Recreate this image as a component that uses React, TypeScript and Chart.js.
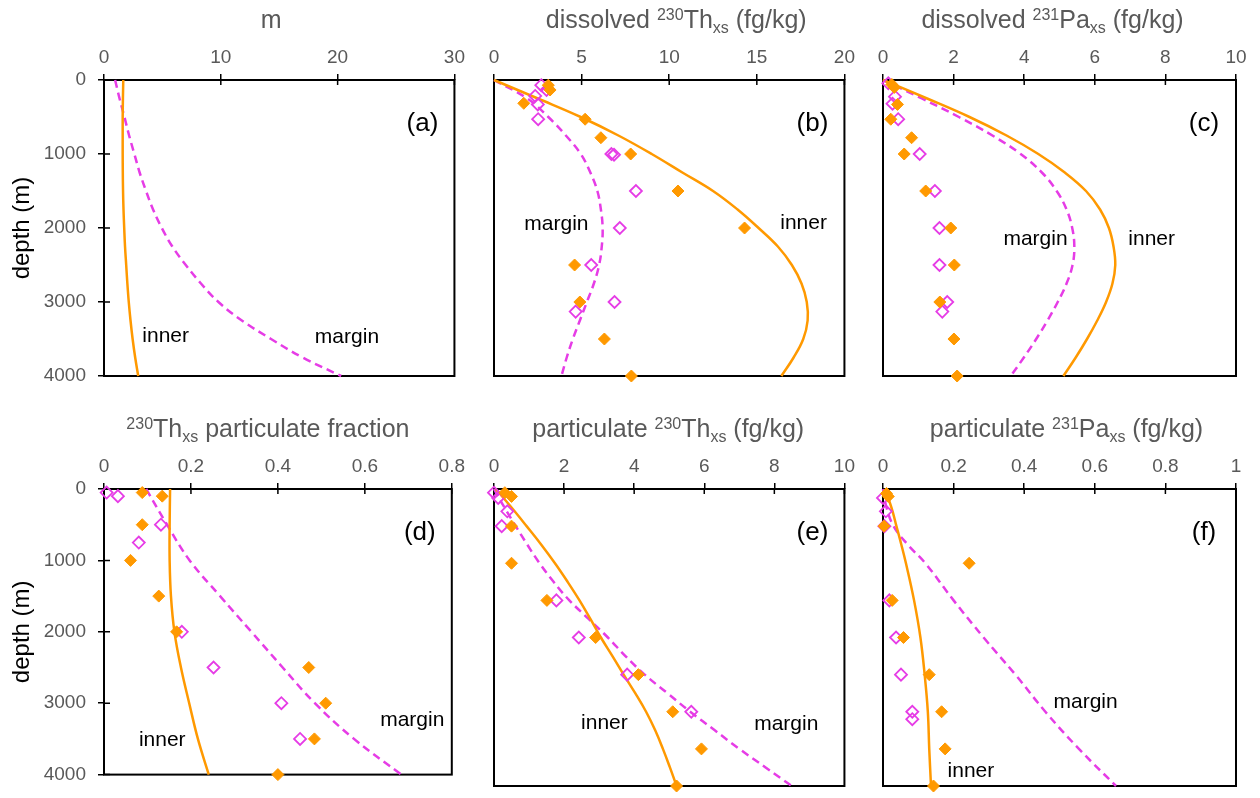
import React, { useEffect, useRef } from 'react';
import { Chart, registerables } from 'chart.js';

Chart.register(...registerables);

const FONT = "'Liberation Sans', Arial, Helvetica, sans-serif";
const ORANGE = '#FF9900';
const MAGENTA = '#E63CE6';
const GRAY = '#595959';

// ---------- data ----------
const DEPTH_250 = [0, 250, 500, 750, 1000, 1250, 1500, 1750, 2000, 2250, 2500, 2750, 3000, 3250, 3500, 3750, 4000];
const DEPTH_500 = [0, 500, 1000, 1500, 2000, 2500, 3000, 3500, 4000];
const DEPTH_F = [0, 250, 500, 750, 1000, 1500, 2000, 2500, 3000, 3500, 4000];

// (a) m
const A_INNER = [1.65, 1.62, 1.6, 1.6, 1.6, 1.61, 1.63, 1.67, 1.73, 1.8, 1.9, 2.0, 2.12, 2.27, 2.45, 2.67, 2.93];
const A_MARGIN = [0.95, 1.33, 1.75, 2.15, 2.6, 3.05, 3.6, 4.2, 4.95, 5.85, 7.0, 8.3, 9.8, 11.8, 14.3, 17.0, 20.3];

// (b) dissolved 230Th
const B_INNER = [0, 2.5, 4.95, 7.1, 9.0, 10.75, 12.5, 13.9, 15.1, 16.2, 17.0, 17.55, 17.85, 17.9, 17.65, 17.1, 16.4];
const B_MARGIN = [0, 1.9, 3.1, 4.1, 4.95, 5.5, 5.9, 6.1, 6.2, 6.15, 6.0, 5.7, 5.3, 4.9, 4.5, 4.15, 3.85];
const B_OBS_INNER_DEPTH = [70, 135, 315, 530, 780, 1000, 1500, 2000, 2500, 3000, 3500, 4000];
const B_OBS_INNER = [3.1, 3.2, 1.7, 5.2, 6.1, 7.8, 10.5, 14.3, 4.6, 4.9, 6.3, 7.84];
const B_OBS_MARGIN_DEPTH = [70, 135, 215, 330, 530, 1000, 1010, 1500, 2000, 2500, 3000, 3130];
const B_OBS_MARGIN = [2.7, 3.0, 2.35, 2.5, 2.52, 6.7, 6.85, 8.1, 7.18, 5.55, 6.88, 4.66];

// (c) dissolved 231Pa
const C_INNER = [0, 1.25, 2.45, 3.5, 4.4, 5.15, 5.75, 6.15, 6.4, 6.53, 6.58, 6.5, 6.32, 6.07, 5.78, 5.46, 5.11];
const C_MARGIN = [0, 1.1, 2.15, 3.1, 3.9, 4.5, 4.92, 5.2, 5.36, 5.42, 5.37, 5.2, 4.95, 4.66, 4.34, 3.99, 3.62];
const C_OBS_INNER_DEPTH = [60, 100, 330, 530, 780, 1000, 1500, 2000, 2500, 3000, 3500, 4000];
const C_OBS_INNER = [0.25, 0.32, 0.41, 0.22, 0.81, 0.6, 1.21, 1.92, 2.02, 1.61, 2.01, 2.1];
const C_OBS_MARGIN_DEPTH = [45, 225, 320, 530, 1000, 1500, 2000, 2500, 3000, 3130];
const C_OBS_MARGIN = [0.15, 0.34, 0.27, 0.43, 1.04, 1.47, 1.6, 1.6, 1.82, 1.68];

// (d) 230Th particulate fraction
const D_INNER = [0.152, 0.151, 0.151, 0.154, 0.162, 0.177, 0.196, 0.216, 0.241];
const D_MARGIN = [0.097, 0.145, 0.197, 0.267, 0.339, 0.411, 0.485, 0.575, 0.684];
const D_OBS_INNER_DEPTH = [50, 100, 500, 1000, 1500, 2000, 2500, 3000, 3500, 4000];
const D_OBS_INNER = [0.088, 0.134, 0.088, 0.061, 0.126, 0.167, 0.471, 0.51, 0.484, 0.4];
const D_OBS_MARGIN_DEPTH = [50, 100, 500, 750, 2000, 2500, 3000, 3500];
const D_OBS_MARGIN = [0.006, 0.032, 0.131, 0.08, 0.179, 0.252, 0.408, 0.451];

// (e) particulate 230Th
const E_INNER = [0.05, 0.5, 0.93, 1.35, 1.74, 2.1, 2.44, 2.75, 3.05, 3.38, 3.7, 4.03, 4.34, 4.6, 4.82, 5.02, 5.21];
const E_MARGIN = [0, 0.3, 0.62, 0.95, 1.3, 1.7, 2.15, 2.7, 3.25, 3.75, 4.3, 4.95, 5.6, 6.3, 7.0, 7.75, 8.5];
const E_OBS_INNER_DEPTH = [50, 100, 500, 1000, 1500, 2000, 2500, 3000, 3500, 4000];
const E_OBS_INNER = [0.31, 0.5, 0.5, 0.5, 1.51, 2.9, 4.12, 5.1, 5.92, 5.21];
const E_OBS_MARGIN_DEPTH = [50, 120, 300, 500, 1500, 2000, 2500, 3000];
const E_OBS_MARGIN = [0.0, 0.12, 0.38, 0.22, 1.78, 2.42, 3.8, 5.63];

// (f) particulate 231Pa
const F_INNER = [0.005, 0.024, 0.038, 0.052, 0.065, 0.088, 0.106, 0.118, 0.127, 0.131, 0.136];
const F_MARGIN = [0, 0.01, 0.03, 0.07, 0.12, 0.2, 0.285, 0.375, 0.46, 0.555, 0.66];
const F_OBS_INNER_DEPTH = [60, 100, 500, 1000, 1500, 2000, 2500, 3000, 3500, 4000];
const F_OBS_INNER = [0.01, 0.015, 0.003, 0.244, 0.026, 0.058, 0.131, 0.166, 0.176, 0.143];
const F_OBS_MARGIN_DEPTH = [120, 300, 500, 1500, 2000, 2500, 3000, 3100];
const F_OBS_MARGIN = [0.0, 0.008, 0.004, 0.018, 0.037, 0.051, 0.083, 0.083];

const DEPTH_TICK_STEP = 1000;

// ---------- panel configuration ----------
type Seg = { t: string; k?: 'sup' | 'sub' };
type Label = { text: string; x: number; y: number };

interface PanelCfg {
  left: number; top: number; w: number; h: number;
  padL: number; padR: number; padB: number;
  xAxisH: number; yAxisW: number; showY: boolean;
  xMax: number; xStep: number;
  title: Seg[]; titleDx: number;
  letter: string;
  labels: Label[];
  curveDepth: number[]; inner: number[]; margin: number[];
  obsInnerDepth?: number[]; obsInner?: number[];
  obsMarginDepth?: number[]; obsMargin?: number[];
}

const TOP_ROW = { top: 0, h: 400, xAxisH: 80, padB: 24 };
const BOT_ROW = { top: 400, h: 398, xAxisH: 89, padB: 12 };
const COL_A = { left: 0, w: 470, padL: 0, padR: 14, yAxisW: 104, showY: true };
const COL_B = { left: 470, w: 390, padL: 24, padR: 14, yAxisW: 0, showY: false };
const COL_C = { left: 860, w: 400, padL: 23, padR: 24, yAxisW: 0, showY: false };

const PANELS: PanelCfg[] = [
  {
    ...TOP_ROW, ...COL_A, xMax: 30, xStep: 10,
    title: [{ t: 'm' }], titleDx: -8, letter: '(a)',
    labels: [{ text: 'inner', x: 5.28, y: 3536 }, { text: 'margin', x: 20.8, y: 3554 }],
    curveDepth: DEPTH_250, inner: A_INNER, margin: A_MARGIN,
  },
  {
    ...TOP_ROW, ...COL_B, xMax: 20, xStep: 5,
    title: [{ t: 'dissolved ' }, { t: '230', k: 'sup' }, { t: 'Th' }, { t: 'xs', k: 'sub' }, { t: ' (fg/kg)' }], titleDx: 7, letter: '(b)',
    labels: [{ text: 'margin', x: 3.56, y: 2027 }, { text: 'inner', x: 17.67, y: 2014 }],
    curveDepth: DEPTH_250, inner: B_INNER, margin: B_MARGIN,
    obsInnerDepth: B_OBS_INNER_DEPTH, obsInner: B_OBS_INNER,
    obsMarginDepth: B_OBS_MARGIN_DEPTH, obsMargin: B_OBS_MARGIN,
  },
  {
    ...TOP_ROW, ...COL_C, xMax: 10, xStep: 2,
    title: [{ t: 'dissolved ' }, { t: '231', k: 'sup' }, { t: 'Pa' }, { t: 'xs', k: 'sub' }, { t: ' (fg/kg)' }], titleDx: -7, letter: '(c)',
    labels: [{ text: 'margin', x: 4.32, y: 2230 }, { text: 'inner', x: 7.61, y: 2230 }],
    curveDepth: DEPTH_250, inner: C_INNER, margin: C_MARGIN,
    obsInnerDepth: C_OBS_INNER_DEPTH, obsInner: C_OBS_INNER,
    obsMarginDepth: C_OBS_MARGIN_DEPTH, obsMargin: C_OBS_MARGIN,
  },
  {
    ...BOT_ROW, ...COL_A, xMax: 0.8, xStep: 0.2,
    title: [{ t: '230', k: 'sup' }, { t: 'Th' }, { t: 'xs', k: 'sub' }, { t: ' particulate fraction' }], titleDx: -10, letter: '(d)',
    labels: [{ text: 'inner', x: 0.134, y: 3596 }, { text: 'margin', x: 0.709, y: 3313 }],
    curveDepth: DEPTH_500, inner: D_INNER, margin: D_MARGIN,
    obsInnerDepth: D_OBS_INNER_DEPTH, obsInner: D_OBS_INNER,
    obsMarginDepth: D_OBS_MARGIN_DEPTH, obsMargin: D_OBS_MARGIN,
  },
  {
    ...BOT_ROW, ...COL_B, xMax: 10, xStep: 2,
    title: [{ t: 'particulate ' }, { t: '230', k: 'sup' }, { t: 'Th' }, { t: 'xs', k: 'sub' }, { t: ' (fg/kg)' }], titleDx: -1, letter: '(e)',
    labels: [{ text: 'inner', x: 3.15, y: 3232 }, { text: 'margin', x: 8.34, y: 3246 }],
    curveDepth: DEPTH_250, inner: E_INNER, margin: E_MARGIN,
    obsInnerDepth: E_OBS_INNER_DEPTH, obsInner: E_OBS_INNER,
    obsMarginDepth: E_OBS_MARGIN_DEPTH, obsMargin: E_OBS_MARGIN,
  },
  {
    ...BOT_ROW, ...COL_C, xMax: 1, xStep: 0.2,
    title: [{ t: 'particulate ' }, { t: '231', k: 'sup' }, { t: 'Pa' }, { t: 'xs', k: 'sub' }, { t: ' (fg/kg)' }], titleDx: 7, letter: '(f)',
    labels: [{ text: 'margin', x: 0.574, y: 2949 }, { text: 'inner', x: 0.249, y: 3879 }],
    curveDepth: DEPTH_F, inner: F_INNER, margin: F_MARGIN,
    obsInnerDepth: F_OBS_INNER_DEPTH, obsInner: F_OBS_INNER,
    obsMarginDepth: F_OBS_MARGIN_DEPTH, obsMargin: F_OBS_MARGIN,
  },
];

const toPoints = (xs: number[], ys: number[]) => xs.map((v, i) => ({ x: v, y: ys[i] }));
const fmt = (v: number) => String(Number(Number(v).toFixed(3)));

function drawRich(ctx: CanvasRenderingContext2D, segs: Seg[], cx: number, baseline: number) {
  const main = 25, small = 16;
  let total = 0;
  const widths: number[] = [];
  for (const s of segs) {
    ctx.font = `${s.k ? small : main}px ${FONT}`;
    const w = ctx.measureText(s.t).width;
    widths.push(w);
    total += w;
  }
  let x = cx - total / 2;
  ctx.textAlign = 'left';
  ctx.textBaseline = 'alphabetic';
  segs.forEach((s, i) => {
    ctx.font = `${s.k ? small : main}px ${FONT}`;
    const dy = s.k === 'sup' ? -8.5 : s.k === 'sub' ? 4.5 : 0;
    ctx.fillText(s.t, x, baseline + dy);
    x += widths[i];
  });
}

function makeDecor(cfg: PanelCfg) {
  return {
    id: 'decor',
    beforeDatasetsDraw(chart: any) {
      const { ctx, chartArea: a, scales } = chart;
      ctx.save();
      ctx.strokeStyle = '#000';
      ctx.lineWidth = 1.5;
      ctx.beginPath();
      scales.x.ticks.forEach((t: any) => {
        const px = scales.x.getPixelForValue(t.value);
        ctx.moveTo(px, a.top);
        ctx.lineTo(px, a.top + 5);
      });
      if (cfg.showY) {
        scales.y.ticks.forEach((t: any) => {
          const py = scales.y.getPixelForValue(t.value);
          ctx.moveTo(a.left, py);
          ctx.lineTo(a.left + 6, py);
        });
      }
      ctx.stroke();
      ctx.lineWidth = 2;
      ctx.strokeRect(a.left, a.top, a.right - a.left, a.bottom - a.top);
      ctx.restore();
    },
    afterDraw(chart: any) {
      const { ctx, chartArea: a, scales } = chart;
      ctx.save();
      ctx.fillStyle = GRAY;
      drawRich(ctx, cfg.title, (a.left + a.right) / 2 + cfg.titleDx, a.top - 52);
      ctx.fillStyle = '#000';
      ctx.font = `21px ${FONT}`;
      ctx.textAlign = 'center';
      ctx.textBaseline = 'alphabetic';
      cfg.labels.forEach((l) => {
        ctx.fillText(l.text, scales.x.getPixelForValue(l.x), scales.y.getPixelForValue(l.y));
      });
      ctx.font = `26px ${FONT}`;
      ctx.textBaseline = 'middle';
      ctx.fillText(cfg.letter, a.right - 32, a.top + 44);
      ctx.restore();
    },
  };
}

function Panel({ cfg }: { cfg: PanelCfg }) {
  const ref = useRef<HTMLCanvasElement | null>(null);
  useEffect(() => {
    if (!ref.current) return;
    const datasets: any[] = [];
    if (cfg.obsInner && cfg.obsInnerDepth) {
      datasets.push({
        label: 'inner obs', data: toPoints(cfg.obsInner, cfg.obsInnerDepth), showLine: false,
        pointStyle: 'rectRot', pointRadius: 6, backgroundColor: ORANGE, borderColor: ORANGE, borderWidth: 1,
        order: 0, clip: false,
      });
    }
    if (cfg.obsMargin && cfg.obsMarginDepth) {
      datasets.push({
        label: 'margin obs', data: toPoints(cfg.obsMargin, cfg.obsMarginDepth), showLine: false,
        pointStyle: 'rectRot', pointRadius: 6, backgroundColor: 'rgba(0,0,0,0)', borderColor: MAGENTA, borderWidth: 1.8,
        order: 1, clip: false,
      });
    }
    datasets.push({
      label: 'inner', data: toPoints(cfg.inner, cfg.curveDepth), showLine: true, pointRadius: 0,
      borderColor: ORANGE, borderWidth: 2.5, tension: 0.4, order: 2, clip: false,
    });
    datasets.push({
      label: 'margin', data: toPoints(cfg.margin, cfg.curveDepth), showLine: true, pointRadius: 0,
      borderColor: MAGENTA, borderWidth: 2.5, borderDash: [8, 5], tension: 0.4, order: 3, clip: false,
    });

    const chart = new Chart(ref.current, {
      type: 'scatter',
      data: { datasets },
      options: {
        animation: false,
        responsive: false,
        events: [],
        layout: { padding: { left: cfg.padL, right: cfg.padR, top: 0, bottom: cfg.padB } },
        plugins: { legend: { display: false }, tooltip: { enabled: false }, title: { display: false } },
        scales: {
          x: {
            type: 'linear', position: 'top', min: 0, max: cfg.xMax,
            ticks: {
              stepSize: cfg.xStep, color: GRAY, font: { family: FONT, size: 19 }, padding: 5,
              maxRotation: 0, autoSkip: false, callback: (v: any) => fmt(v),
            },
            grid: { display: true, drawOnChartArea: false, drawTicks: true, tickLength: 6, color: '#000', lineWidth: 1.5 },
            border: { display: false },
            afterFit: (s: any) => { s.height = cfg.xAxisH; },
          },
          y: {
            type: 'linear', position: 'left', min: 0, max: 4000, reverse: true, display: cfg.showY,
            ticks: {
              stepSize: DEPTH_TICK_STEP, color: GRAY, font: { family: FONT, size: 19 }, padding: 12,
              callback: (v: any) => String(v),
            },
            grid: { display: true, drawOnChartArea: false, drawTicks: true, tickLength: 6, color: '#000', lineWidth: 1.5 },
            border: { display: false },
            title: { display: true, text: 'depth (m)', color: '#000', font: { family: FONT, size: 24 }, padding: { top: 8, bottom: 0 } },
            afterFit: (s: any) => { if (cfg.showY) s.width = cfg.yAxisW; },
          },
        },
      } as any,
      plugins: [makeDecor(cfg)],
    });
    return () => chart.destroy();
  }, [cfg]);

  return (
    <canvas
      ref={ref}
      width={cfg.w}
      height={cfg.h}
      style={{ position: 'absolute', left: cfg.left, top: cfg.top, width: cfg.w, height: cfg.h }}
    />
  );
}

export default function App() {
  return (
    <div style={{ position: 'absolute', left: 0, top: 0, width: 1260, height: 798, background: '#fff' }}>
      {PANELS.map((p, i) => (
        <Panel key={i} cfg={p} />
      ))}
    </div>
  );
}
